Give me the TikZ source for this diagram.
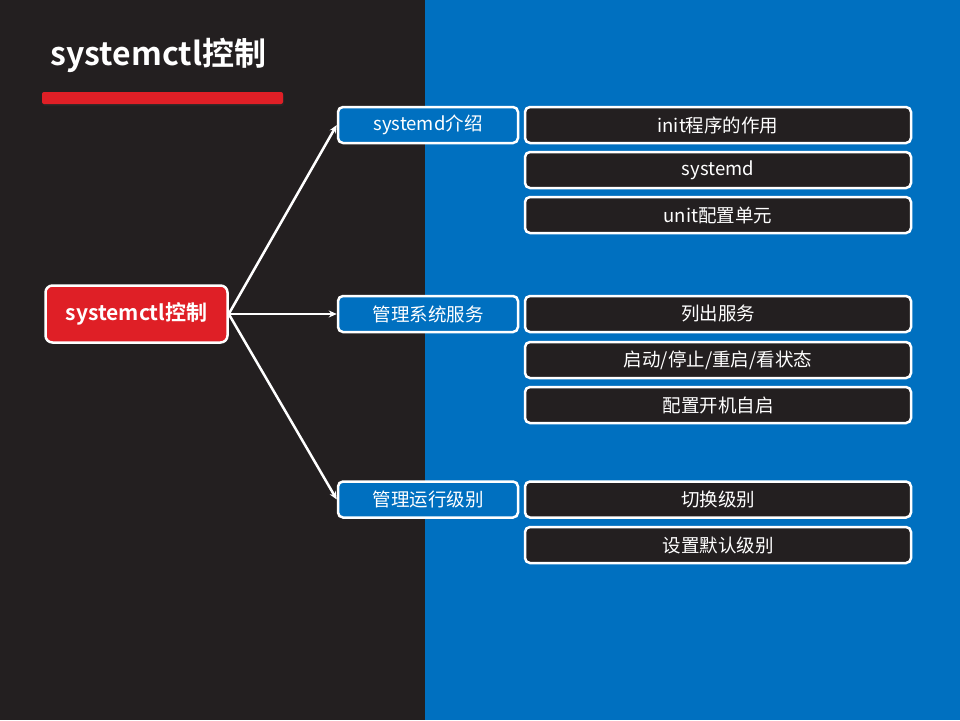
\documentclass[tikz,border=0pt]{standalone}
\usepackage{fontspec}
\setmainfont{Noto Sans CJK SC}[BoldFont={Noto Sans CJK SC Bold}]
\usetikzlibrary{arrows.meta,positioning}
\definecolor{slateDark}{RGB}{35,31,32}
\definecolor{oceanBlue}{RGB}{0,112,192}
\definecolor{alertRed}{RGB}{223,31,38}
\tikzset{
  root node/.style={draw=white,fill=alertRed,line width=2.5pt,rounded corners=7pt,text=white,font=\fontsize{21}{25}\selectfont\bfseries,minimum width=182pt,minimum height=57pt},
  topic node/.style={draw=white,fill=oceanBlue,line width=2.5pt,rounded corners=5pt,text=white,font=\fontsize{18.5}{22}\selectfont,minimum width=180pt,minimum height=36pt},
  item node/.style={draw=white,fill=slateDark,line width=2.5pt,rounded corners=5pt,text=white,font=\fontsize{18.5}{22}\selectfont,minimum width=386pt,minimum height=36pt},
  branch arrow/.style={-{Stealth[length=8pt,width=7pt]},line width=2.5pt,draw=white}
}
\begin{document}
\begin{tikzpicture}[x=1pt,y=-1pt]
  % background halves
  \fill[slateDark] (0,0) rectangle (425,720);
  \fill[oceanBlue] (425,0) rectangle (960,720);
  \useasboundingbox (0,0) rectangle (960,720);
  % title
  \node[text=white,font=\fontsize{32}{38}\selectfont\bfseries,anchor=west] (title) at (47,55) {systemctl控制};
  \fill[black!85,rounded corners=2pt] (43,94) rectangle (284,106);
  \fill[alertRed,rounded corners=2pt] (42,92) rectangle (283,104);
  % tree
  \node[root node] (root) at (136.5,314) {systemctl控制};
  \node[topic node] (intro) at (428,125) {systemd介绍};
  \node[topic node] (service) at (428,314) {管理系统服务};
  \node[topic node] (level) at (428,499.5) {管理运行级别};
  \node[item node] (init) at (718,125) {init程序的作用};
  \node[item node] (sysd) at (718,170) {systemd};
  \node[item node] (unit) at (718,215) {unit配置单元};
  \node[item node] (list) at (718,314) {列出服务};
  \node[item node] (ctrl) at (718,360) {启动/停止/重启/看状态};
  \node[item node] (boot) at (718,405) {配置开机自启};
  \node[item node] (switch) at (718,499.5) {切换级别};
  \node[item node] (default) at (718,545) {设置默认级别};
  \draw[branch arrow] (root.east) -- (intro.west);
  \draw[branch arrow] (root.east) -- (service.west);
  \draw[branch arrow] (root.east) -- (level.west);
\end{tikzpicture}
\end{document}
